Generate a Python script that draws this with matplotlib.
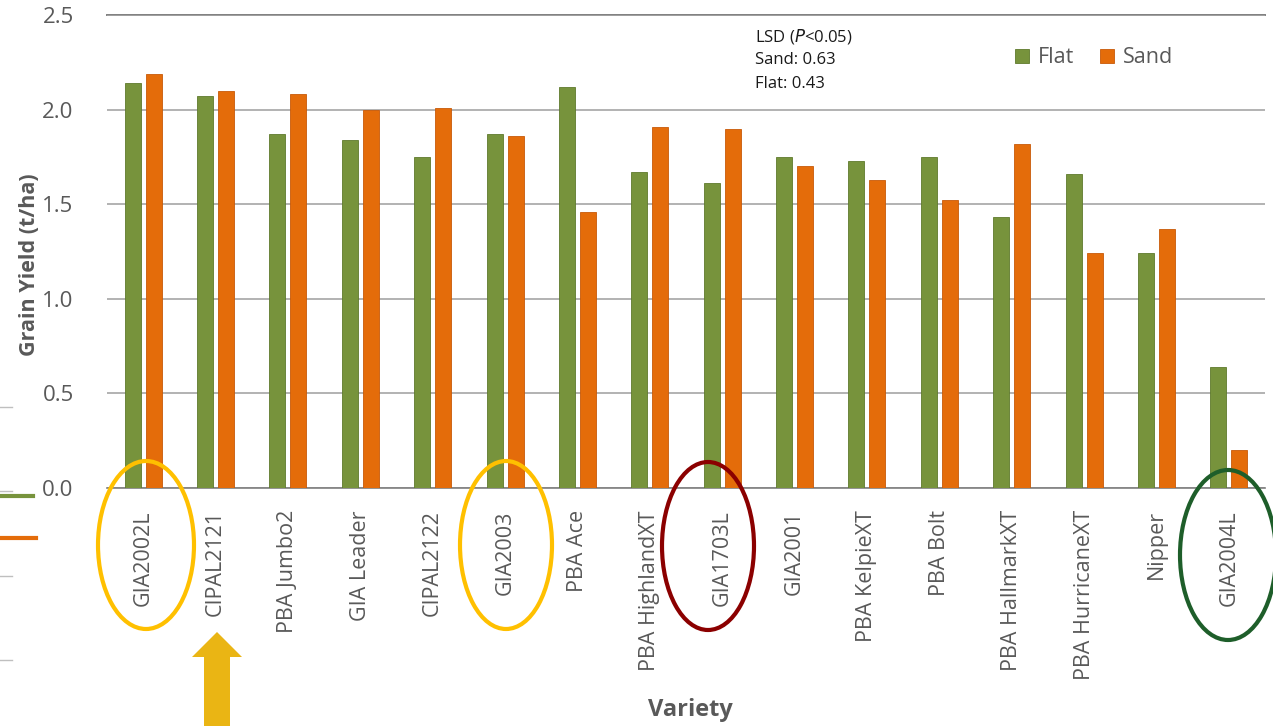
import numpy as np
import matplotlib
matplotlib.use("Agg")
import matplotlib.pyplot as plt
from matplotlib.patches import Ellipse, FancyArrow
from matplotlib.lines import Line2D

plt.rcParams['font.family'] = ['Open Sans', 'DejaVu Sans']

varieties = ["GIA2002L", "CIPAL2121", "PBA Jumbo2", "GIA Leader", "CIPAL2122", "GIA2003",
             "PBA Ace", "PBA HighlandXT", "GIA1703L", "GIA2001", "PBA KelpieXT", "PBA Bolt",
             "PBA HallmarkXT", "PBA HurricaneXT", "Nipper", "GIA2004L"]
flat = [2.14, 2.07, 1.87, 1.84, 1.75, 1.87, 2.12, 1.67, 1.61, 1.75, 1.73, 1.75, 1.43, 1.66, 1.24, 0.64]
sand = [2.19, 2.10, 2.08, 2.00, 2.01, 1.86, 1.46, 1.91, 1.90, 1.70, 1.63, 1.52, 1.82, 1.24, 1.37, 0.20]
y_ticks = [0.0, 0.5, 1.0, 1.5, 2.0, 2.5]

green = "#77933C"
orange = "#E46C0A"
grey_text = "#595959"

fig = plt.figure(figsize=(12.73, 7.26), dpi=100)
ax = fig.add_axes([107 / 1273, (726 - 488) / 726, (1265 - 107) / 1273, (488 - 15) / 726])

x = np.arange(len(varieties))
ax.bar(x - 0.145, flat, width=0.22, color=green, edgecolor="#5E7A2C", linewidth=0.6, label="Flat", zorder=3)
ax.bar(x + 0.145, sand, width=0.22, color=orange, edgecolor="#C85A08", linewidth=0.6, label="Sand", zorder=3)

ax.set_xlim(-0.5, len(varieties) - 0.5)
ax.set_ylim(0, 2.5)
ax.set_yticks(y_ticks)
ax.set_yticklabels([f"{v:.1f}" for v in y_ticks], fontsize=16, color=grey_text)
ax.set_xticks(x)
ax.set_xticklabels(varieties, rotation=90, fontsize=15.5, color=grey_text)
ax.tick_params(axis="y", length=0, pad=24)
ax.tick_params(axis="x", length=0, pad=16)
ax.grid(axis="y", color="#A6A6A6", linewidth=1.2, zorder=0)
for s in ["left", "right", "top"]:
    ax.spines[s].set_visible(False)
ax.spines["bottom"].set_color("#7F7F7F")
ax.spines["bottom"].set_linewidth(1.2)
ax.axhline(2.5, color="#7F7F7F", linewidth=1.4, zorder=1, clip_on=False)

fig.text(30 / 1273, 1 - 265 / 726, "Grain Yield (t/ha)", fontsize=15.5, fontweight="bold", color=grey_text,
         rotation=90, ha="center", va="center")
fig.text(690 / 1273, 1 - 710 / 726, "Variety", fontsize=17, fontweight="bold", color=grey_text,
         ha="center", va="center")

# LSD note
fig.text(755 / 1273, 1 - 36 / 726, "LSD ($\\it{P}$<0.05)", fontsize=12, color="#1a1a1a", va="center")
fig.text(755 / 1273, 1 - 60 / 726, "Sand: 0.63", fontsize=12, color="#1a1a1a", va="center")
fig.text(755 / 1273, 1 - 84 / 726, "Flat: 0.43", fontsize=12, color="#1a1a1a", va="center")

leg = ax.legend(loc="upper left", bbox_to_anchor=((996 - 107) / (1265 - 107), 1 - 13 / 473),
                ncol=2, frameon=False, fontsize=15.5, handlelength=0.65, handleheight=0.65,
                handletextpad=0.4, columnspacing=1.2)
for t in leg.get_texts():
    t.set_color(grey_text)

# annotations in pixel space
def px(xp, yp):
    return (xp / 1273, 1 - yp / 726)

for cx, cy, w, h, col in [(146, 545, 96, 168, "#FFC000"), (506, 545, 92, 168, "#FFC000"),
                          (708, 546, 92, 168, "#8B0000"), (1228, 555, 96, 170, "#1E5E2A")]:
    e = Ellipse(px(cx, cy), w / 1273, h / 726, transform=fig.transFigure, fill=False,
                edgecolor=col, linewidth=3, zorder=10)
    fig.add_artist(e)

arrow = FancyArrow(217 / 1273, 0.0, 0, (726 - 632) / 726, width=26 / 1273, head_width=50 / 1273,
                   head_length=25 / 726, length_includes_head=True, transform=fig.transFigure,
                   color="#EAB514", linewidth=0)
fig.add_artist(arrow)

# leftover slide fragments on the left edge
fig.add_artist(Line2D([0, 33 / 1273], [1 - 496 / 726] * 2, color=green, linewidth=3, transform=fig.transFigure))
fig.add_artist(Line2D([0, 36 / 1273], [1 - 538 / 726] * 2, color=orange, linewidth=3, transform=fig.transFigure))
for yp in [407, 491, 576, 660]:
    fig.add_artist(Line2D([0, 12 / 1273], [1 - yp / 726] * 2, color="#BFBFBF", linewidth=1, transform=fig.transFigure))

fig.savefig("out.png", dpi=100)
